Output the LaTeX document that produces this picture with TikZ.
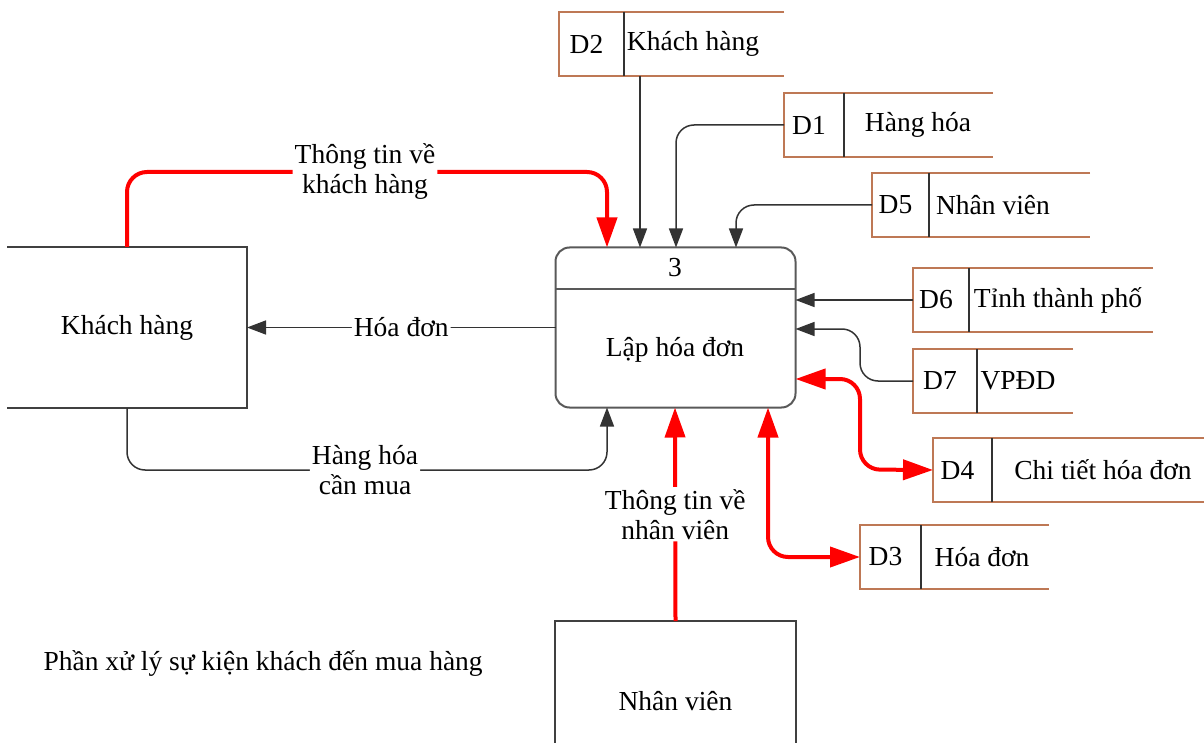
\documentclass[tikz,border=0pt]{standalone}
\usepackage{fontspec}
\setmainfont{Liberation Serif}
\usetikzlibrary{arrows.meta,positioning}

\definecolor{storebrown}{RGB}{190,120,85}
\definecolor{flowred}{RGB}{255,0,0}

% one data store: name, left, top, divider, right, id, label x, label
\newcommand{\datastore}[8]{%
  \node[storecell, minimum width={#4-#2}] (#1) at ({(#2+#4)/2},{#3+32}) {};
  \node (#1id) at ([xshift=-5]#1.center) {#6};
  \node (#1l) at (#7,{#3+32}) {#8};
  \draw[storeline] (#5,#3) -- (#1.north west) -- (#1.south west) -- (#5,#3+64);
  \draw[divider] (#1.north east) -- (#1.south east);
}

\tikzset{
  every node/.style={font=\fontsize{27.5}{30}\selectfont, text=black},
  entity/.style={minimum width=240, minimum height=161, inner sep=0, outer sep=0},
  entityline/.style={draw=black!75, line width=1.8pt},
  process/.style={draw=black!65, line width=2pt, rounded corners=14,
    minimum width=240, minimum height=160, inner sep=0, outer sep=0},
  storecell/.style={minimum height=64, inner sep=0, outer sep=0},
  storeline/.style={draw=storebrown, line width=1.8pt},
  divider/.style={draw=black!80, line width=1.4pt},
  flow/.style={draw=black!80, line width=1.5pt, rounded corners=18,
    -{Triangle[length=19pt, width=14pt]}},
  redflow/.style={draw=flowred, line width=4pt, rounded corners=20,
    -{Triangle[length=30pt, width=20pt]}},
  redboth/.style={redflow, {Triangle[length=30pt, width=20pt]}-{Triangle[length=30pt, width=20pt]}},
  lbl/.style={fill=white, inner sep=2pt, align=center}
}

\begin{document}
\begin{tikzpicture}[x=1pt, y=-1pt]
\useasboundingbox (0,0) rectangle (1204,743);
\clip (0,0) rectangle (1204,743);

% external entities
\node[entity] (kh) at (127,327.5) {Khách hàng};
\draw[entityline] (kh.north west) -- (kh.north east) -- (kh.south east) -- (kh.south west);
\node[entity, minimum width=241, minimum height=160] (nv) at (675.5,701) {Nhân viên};
\draw[entityline] (nv.south west) -- (nv.north west) -- (nv.north east) -- (nv.south east);

% process 3
\node[process] (proc) at (675.5,327.5) {};
\draw[divider, draw=black!65, line width=1.6pt] (proc.west |- 0,289) -- (proc.east |- 0,289);
\node (procid) at (675,268) {3};
\node (procname) at (675,350) {Lập hóa đơn};

% data stores
\datastore{d2}{559}{12}{624}{784}{D2}{693}{Khách hàng}
\datastore{d1}{784}{93}{844}{993}{D1}{918}{Hàng hóa}
\datastore{d5}{872}{173}{929}{1090}{D5}{993}{Nhân viên}
\datastore{d6}{913}{268}{969}{1153}{D6}{1058}{Tỉnh thành phố}
\datastore{d7}{913}{349}{977}{1073}{D7}{1018}{VPĐD}
\datastore{d4}{933}{438}{992}{1215}{D4}{1103}{Chi tiết hóa đơn}
\datastore{d3}{860}{525}{921}{1049}{D3}{982}{Hóa đơn}

% ends on the process border
\coordinate (in1) at (607,247.5);
\coordinate (in2) at (640,247.5);
\coordinate (in3) at (676,247.5);
\coordinate (in4) at (736,247.5);
\coordinate (in5) at (795.5,329);
\coordinate (io1) at (795.5,379);
\coordinate (io2) at (768,407.5);
\coordinate (in6) at (607,407.5);
\coordinate (in7) at (675,407.5);

% flows
\draw[redflow] (kh.north) |- (365,172) node[lbl] {Thông tin về\\khách hàng} -| (in1);
\draw[flow] (proc.west) -- node[lbl] {Hóa đơn} (kh.east);
\draw[flow] (kh.south) |- (365,470) node[lbl] {Hàng hóa\\cần mua} -| (in6);
\draw[flow] (d2.south -| in2) -- (in2);
\draw[flow] (d1.west) -| (in3);
\draw[flow] (d5.west) -| (in4);
\draw[flow] (d6.west) -- (proc.east |- d6.west);
\draw[flow] (d7.west) -- (860,381) |- (in5);
\draw[redboth] (io1) -| (860,469.5) -- (d4.west);
\draw[redboth] (io2) |- (d3.west);
\draw[redflow] (nv.north) -- node[lbl] {Thông tin về\\nhân viên} (in7);

% caption
\node[anchor=west] (caption) at (40,664) {Phần xử lý sự kiện khách đến mua hàng};
\end{tikzpicture}
\end{document}
